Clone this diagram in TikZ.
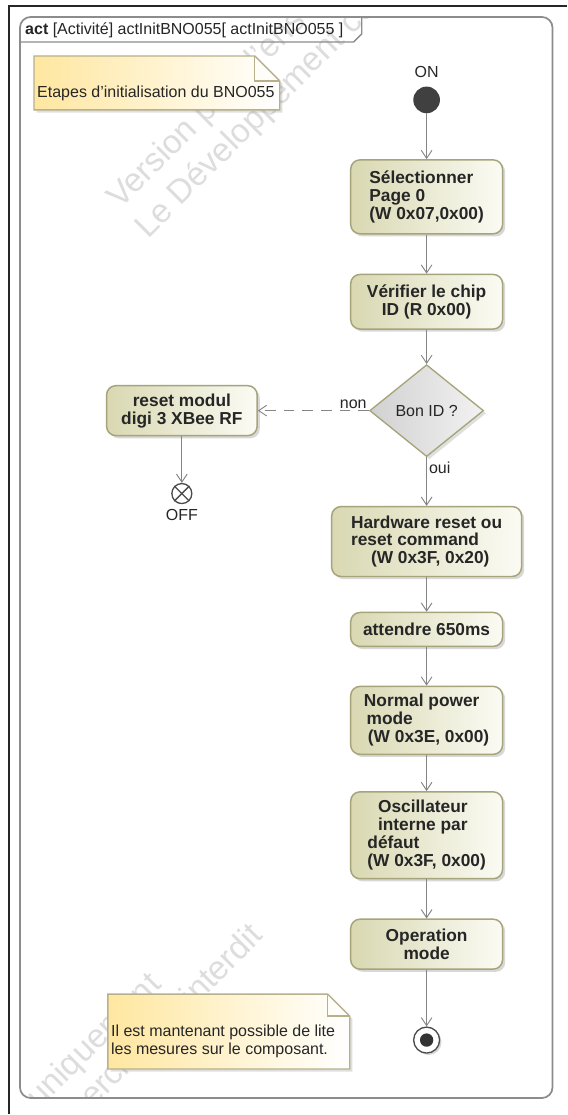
\documentclass[tikz,border=0pt]{standalone}
\usepackage{fontspec}
\setmainfont{Liberation Sans}
\usetikzlibrary{arrows.meta,shapes.geometric,shadows}

\definecolor{actline}{HTML}{A6A47A}
\definecolor{actleft}{HTML}{D9D8B2}
\definecolor{actright}{HTML}{FBFBF4}
\definecolor{noteleft}{HTML}{FFE7A0}
\definecolor{noteline}{HTML}{B8B08C}
\definecolor{flowgray}{HTML}{858585}
\definecolor{wmark}{HTML}{DDDDDD}
\definecolor{txt}{HTML}{262626}

\begin{document}
\begin{tikzpicture}[x=0.75pt,y=-0.75pt,
  action/.style={draw=actline, line width=1.1pt, rounded corners=7pt,
    left color=actleft, right color=actright,
    drop shadow={shadow xshift=2pt,shadow yshift=-2pt,opacity=0.3},
    font=\fontsize{13}{13.5}\selectfont\bfseries, text=txt,
    inner sep=2pt, minimum width=114pt},
  decision/.style={diamond, draw=actline, line width=1pt, inner sep=0pt,
    left color=black!18, right color=black!5,
    drop shadow={shadow xshift=2pt,shadow yshift=-2pt,opacity=0.25},
    minimum width=85.5pt, minimum height=69pt,
    font=\fontsize{12}{13.5}\selectfont, text=txt},
  note/.style={draw=noteline, line width=1pt, left color=noteleft, right color=white,
    drop shadow={shadow xshift=2pt,shadow yshift=-2pt,opacity=0.25}},
  flow/.style={draw=flowgray, line width=0.7pt, -{Straight Barb[length=6pt,width=8pt]}},
  lbl/.style={font=\fontsize{12}{13.5}\selectfont, text=txt, inner sep=1.5pt},
  wm/.style={font=\fontsize{25}{30}\selectfont, text=wmark, rotate=45, inner sep=0pt}
]
% page and outer rules
\fill[white] (0,0) rectangle (567,1115);
\draw[black!85, line width=1.5pt] (567,6) -- (9,6) -- (9,1115);

% watermark
\begin{scope}
\clip (21,18) rectangle (552,1098);
\node[wm, anchor=base west] (wm1a) at (120,210) {Version pour l'enseignement uniquement};
\node[wm, anchor=base west] (wm1b) at (148,240) {Le Développement commercial est interdit};
\node[wm, anchor=base east] (wm2a) at (163,987) {Version pour l'enseignement uniquement};
\node[wm, anchor=base east] (wm2b) at (265,938) {Le Développement commercial est interdit};
\end{scope}

% frame
\draw[black!45, line width=1.3pt, rounded corners=8pt] (20,17) rectangle (553,1099);
\draw[black!45, line width=1pt] (20,42) -- (354,42) -- (362,34) -- (362,17);
\node[lbl, anchor=west] (hdr) at (23,30) {\textbf{act} [Activité] actInitBNO055[ actInitBNO055 ]};

% notes
\path[note] (34,56) -- (255,56) -- (280,81) -- (280,110) -- (34,110) -- cycle;
\draw[noteline, line width=1pt] (255,56) -- (255,81) -- (280,81);
\node[lbl, anchor=west] (note1) at (35,93) {Etapes d'initialisation du BNO055};

\path[note] (108,995) -- (328,995) -- (350,1017) -- (350,1070) -- (108,1070) -- cycle;
\draw[noteline, line width=1pt] (328,995) -- (328,1017) -- (350,1017);
\node[lbl, anchor=west, align=left] (note2) at (109,1042) {Il est mantenant possible de lite\\les mesures sur le composant.};

% start
\node[lbl] (onlbl) at (427,72) {ON};
\node[circle, fill=black!75, minimum size=20pt, inner sep=0pt] (start) at (427,100) {};

% actions
\node[action, minimum height=55.5pt, align=left] (sel) at (427,197)
  {Sélectionner\\Page 0\\ (W 0x07,0x00)};
\node[action, minimum height=41pt, align=center] (chk) at (427,302)
  {Vérifier le chip\\ID (R 0x00)};
\node[decision] (bonid) at (427,411) {Bon ID ?};
\node[action, minimum height=37.5pt, minimum width=113pt, align=center] (rst) at (182,411)
  {reset modul\\digi 3 XBee RF};
\node[circle, draw=black!70, fill=white, line width=1pt, minimum size=15pt, inner sep=0pt] (off) at (182,494) {};
\draw[black!70, line width=1pt] (off.north west) -- (off.south east) (off.north east) -- (off.south west);
\node[lbl] (offlbl) at (182,515) {OFF};
\node[action, minimum height=52.5pt, minimum width=142.5pt, align=left] (hw) at (427,542)
  {Hardware reset ou\\reset command\\\hspace{15pt}(W 0x3F, 0x20)};
\node[action, minimum height=25.5pt, align=center] (wait) at (427,630) {attendre 650ms};
\node[action, minimum height=51pt, align=left] (pwr) at (427,721)
  {Normal power\\\hspace{2pt}mode\\\hspace{3pt}(W 0x3E, 0x00)};
\node[action, minimum height=65.25pt, align=left] (osc) at (427,836)
  {\hspace{8pt}Oscillateur\\\hspace{8pt}interne par\\défaut\\(W 0x3F, 0x00)};
\node[action, minimum height=37.5pt, align=center] (opm) at (427,945) {Operation\\mode};

% end
\node[circle, draw=black!70, fill=white, line width=1pt, minimum size=19.5pt, inner sep=0pt,
  drop shadow={shadow xshift=1.5pt,shadow yshift=-1.5pt,opacity=0.3}] (stop) at (427,1041) {};
\node[circle, fill=black!80, minimum size=10pt, inner sep=0pt] (stopdot) at (stop) {};

% flows
\draw[flow] (start) -- (sel);
\draw[flow] (sel) -- (chk);
\draw[flow] (chk) -- (bonid);
\draw[flow, dash pattern=on 8pt off 6pt] (bonid.west) -- (rst.east)
  node[pos=0, above left, lbl] (nonlbl) {non};
\draw[flow] (bonid) -- (hw) node[pos=0.22, right, lbl] (ouilbl) {oui};
\draw[flow] (rst) -- (off);
\draw[flow] (hw) -- (wait);
\draw[flow] (wait) -- (pwr);
\draw[flow] (pwr) -- (osc);
\draw[flow] (osc) -- (opm);
\draw[flow] (opm) -- (stop);
\end{tikzpicture}
\end{document}
